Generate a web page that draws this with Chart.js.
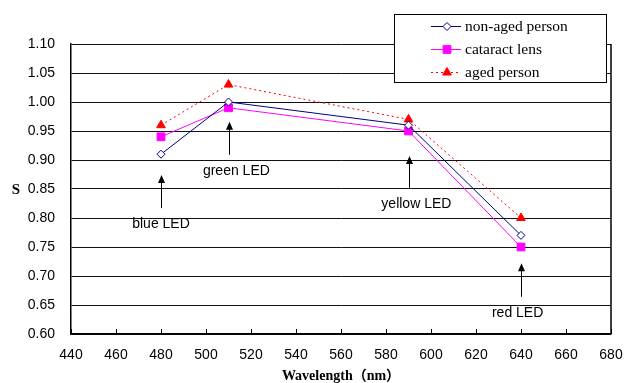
<!DOCTYPE html>
<html>
<head>
<meta charset="utf-8">
<script src="https://cdn.jsdelivr.net/npm/chart.js@4"></script>
<style>
  html, body { margin: 0; padding: 0; background: #fff; }
</style>
</head>
<body>
<canvas id="ledChart" width="626" height="383"></canvas>
<script>
const wavelengths = [480, 510, 590, 640];
const nonAged = [0.91, 1.00, 0.96, 0.77];
const cataract = [0.94, 0.99, 0.95, 0.75];
const aged = [0.96, 1.03, 0.97, 0.80];

// LED annotations (arrow from tail up to tip, label below)
const ledNames = ["blue LED", "green LED", "yellow LED", "red LED"];
const arrowTip = [0.874, 0.966, 0.907, 0.722];
const arrowTail = [0.817, 0.909, 0.852, 0.664];
const labelX = [480, 513.5, 593.5, 638.5];
const labelY = [0.79, 0.881, 0.824, 0.636];

const pts = arr => wavelengths.map((x, i) => ({ x: x, y: arr[i] }));

const serif = "'Liberation Serif', 'Times New Roman', 'Noto Sans CJK JP', serif";

const extras = {
  id: "extras",
  afterDraw(chart) {
    const ctx = chart.ctx;
    const area = chart.chartArea;
    const xs = chart.scales.x;
    const ys = chart.scales.y;
    ctx.save();

    // right border
    ctx.strokeStyle = "#000";
    ctx.lineWidth = 1.5;
    ctx.beginPath();
    ctx.moveTo(area.right, area.top);
    ctx.lineTo(area.right, area.bottom);
    ctx.stroke();

    // x tick marks pointing into the plot
    ctx.lineWidth = 1;
    xs.ticks.forEach(t => {
      const px = Math.round(xs.getPixelForValue(t.value)) + 0.5;
      ctx.beginPath();
      ctx.moveTo(px, area.bottom);
      ctx.lineTo(px, area.bottom - 5);
      ctx.stroke();
    });

    // arrows + labels
    ctx.fillStyle = "#000";
    ctx.font = "14px 'Liberation Sans', Arial, sans-serif";
    ctx.textAlign = "center";
    ctx.textBaseline = "middle";
    ledNames.forEach((name, i) => {
      const ax = Math.round(xs.getPixelForValue(wavelengths[i])) + 0.5;
      const tipY = ys.getPixelForValue(arrowTip[i]);
      const tailY = ys.getPixelForValue(arrowTail[i]);
      ctx.beginPath();
      ctx.moveTo(ax, tailY);
      ctx.lineTo(ax, tipY + 6);
      ctx.stroke();
      ctx.beginPath();
      ctx.moveTo(ax, tipY);
      ctx.lineTo(ax - 3.5, tipY + 8);
      ctx.lineTo(ax + 3.5, tipY + 8);
      ctx.closePath();
      ctx.fill();
      ctx.fillText(name, xs.getPixelForValue(labelX[i]), ys.getPixelForValue(labelY[i]));
    });

    // y axis label
    ctx.font = "bold 15px " + serif;
    ctx.fillText("S", 16, 190);

    // legend box
    const lx = 394, ly = 14, lw = 212, lh = 68;
    ctx.fillStyle = "#fff";
    ctx.fillRect(lx, ly, lw, lh);
    ctx.strokeStyle = "#000";
    ctx.lineWidth = 1;
    ctx.strokeRect(lx + 0.5, ly + 0.5, lw, lh);

    ctx.font = "15.5px " + serif;
    ctx.textAlign = "left";
    chart.data.datasets.forEach((ds, i) => {
      const ry = 26 + i * 23;
      ctx.save();
      ctx.strokeStyle = ds.borderColor;
      ctx.lineWidth = ds.borderWidth;
      ctx.setLineDash(ds.borderDash || []);
      ctx.beginPath();
      ctx.moveTo(431, ry + 0.5);
      ctx.lineTo(461, ry + 0.5);
      ctx.stroke();
      ctx.setLineDash([]);
      ctx.fillStyle = ds.pointBackgroundColor;
      ctx.strokeStyle = ds.pointBorderColor;
      ctx.lineWidth = ds.pointBorderWidth;
      Chart.helpers.drawPoint(ctx, {
        pointStyle: ds.pointStyle,
        radius: ds.pointRadius,
        borderWidth: ds.pointBorderWidth,
        rotation: 0
      }, 447, ry + 0.5);
      ctx.restore();
      ctx.fillStyle = "#000";
      ctx.fillText(ds.label, 465, ry + 1);
    });

    ctx.restore();
  }
};

new Chart(document.getElementById("ledChart").getContext("2d"), {
  type: "line",
  data: {
    datasets: [
      {
        label: "non-aged person",
        data: pts(nonAged),
        borderColor: "#000080",
        borderWidth: 1,
        pointStyle: "rectRot",
        pointRadius: 4,
        pointBorderWidth: 1,
        pointBorderColor: "#000080",
        pointBackgroundColor: "#fff"
      },
      {
        label: "cataract lens",
        data: pts(cataract),
        borderColor: "#ff00ff",
        borderWidth: 1,
        pointStyle: "rect",
        pointRadius: 5.5,
        pointBorderWidth: 1,
        pointBorderColor: "#ff00ff",
        pointBackgroundColor: "#ff00ff"
      },
      {
        label: "aged person",
        data: pts(aged),
        borderColor: "#ff0000",
        borderWidth: 1,
        borderDash: [2, 3],
        pointStyle: "triangle",
        pointRadius: 5,
        pointBorderWidth: 1,
        pointBorderColor: "#ff0000",
        pointBackgroundColor: "#ff0000"
      }
    ]
  },
  options: {
    responsive: false,
    animation: false,
    layout: { padding: { top: 44, right: 15, left: 0, bottom: 0 } },
    elements: { line: { tension: 0 } },
    plugins: {
      legend: { display: false },
      tooltip: { enabled: false }
    },
    scales: {
      x: {
        type: "linear",
        min: 440,
        max: 680,
        ticks: {
          stepSize: 20,
          color: "#000",
          padding: 13,
          font: { size: 14, family: "'Liberation Sans', Arial, sans-serif" }
        },
        grid: { display: false, drawTicks: false },
        border: { color: "#000", width: 1.5 },
        title: {
          display: true,
          text: "Wavelength（nm）",
          color: "#000",
          padding: 0,
          font: { size: 14, weight: "bold", lineHeight: 0.9, family: serif }
        },
        afterFit: s => {
          s.height = 49;
          s.paddingLeft = 0;
          s.paddingRight = 0;
        }
      },
      y: {
        min: 0.6,
        max: 1.1,
        ticks: {
          stepSize: 0.05,
          color: "#000",
          padding: 16,
          font: { size: 14, family: "'Liberation Sans', Arial, sans-serif" },
          callback: v => v.toFixed(2)
        },
        grid: { color: "#111", drawTicks: false },
        border: { color: "#000", width: 1.5 },
        afterFit: s => {
          s.width = 71;
          s.paddingTop = 0;
          s.paddingBottom = 0;
        }
      }
    }
  },
  plugins: [extras]
});
</script>
</body>
</html>
